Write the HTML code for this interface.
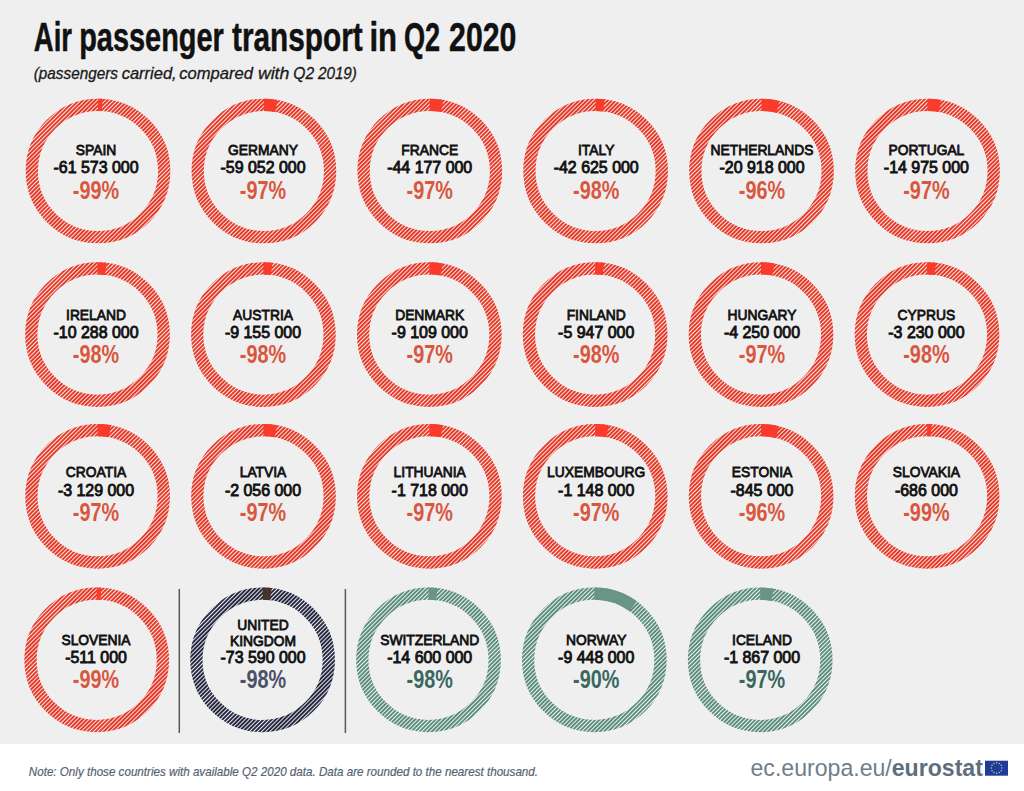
<!DOCTYPE html>
<html><head><meta charset="utf-8"><style>
html,body{margin:0;padding:0;width:1024px;height:791px;overflow:hidden;background:#fff}
svg{display:block}
text{font-family:"Liberation Sans",sans-serif}
.nm{font-size:15.4px;font-weight:normal;fill:#111;stroke:#111;stroke-width:0.85px;text-anchor:middle}
.nu{font-size:15.8px;font-weight:normal;fill:#111;stroke:#111;stroke-width:0.85px;text-anchor:middle}
.ti{font-size:41px;font-weight:bold;fill:#111;stroke:#111;stroke-width:0.5px}
.st{font-size:16px;font-style:italic;fill:#1a1a1a;stroke:#1a1a1a;stroke-width:0.3px}
.pc{font-size:25.5px;font-weight:bold;text-anchor:middle}
</style></head><body>
<svg width="1024" height="791" viewBox="0 0 1024 791">
<defs><pattern id="pr" patternUnits="userSpaceOnUse" width="2.9" height="20" patternTransform="rotate(45)"><rect width="2.9" height="20" fill="#e43a2c"/><rect x="0" width="0.95" height="20" fill="#ffeae2"/></pattern><pattern id="pn" patternUnits="userSpaceOnUse" width="2.9" height="20" patternTransform="rotate(45)"><rect width="2.9" height="20" fill="#28293e"/><rect x="0" width="0.95" height="20" fill="#eeeef6"/></pattern><pattern id="pg" patternUnits="userSpaceOnUse" width="2.9" height="20" patternTransform="rotate(45)"><rect width="2.9" height="20" fill="#5e8c7c"/><rect x="0" width="0.95" height="20" fill="#f0faf6"/></pattern></defs>
<rect x="0" y="0" width="1024" height="744" fill="#efefef"/>
<rect x="0" y="744" width="1024" height="47" fill="#ffffff"/>
<text transform="translate(33.83,50.9) scale(0.6696,1)" class="ti">Air</text>
<text transform="translate(79.18,50.9) scale(0.7054,1)" class="ti">passenger</text>
<text transform="translate(232.00,50.9) scale(0.7267,1)" class="ti">transport</text>
<text transform="translate(369.43,50.9) scale(0.7581,1)" class="ti">in</text>
<text transform="translate(403.98,50.9) scale(0.6615,1)" class="ti">Q2</text>
<text transform="translate(449.06,50.9) scale(0.7382,1)" class="ti">2020</text>
<text transform="translate(33.74,78.6) scale(0.9575,1)" class="st">(passengers</text>
<text transform="translate(121.67,78.6) scale(1.0314,1)" class="st">carried,</text>
<text transform="translate(179.26,78.6) scale(1.0380,1)" class="st">compared</text>
<text transform="translate(257.89,78.6) scale(1.1074,1)" class="st">with</text>
<text transform="translate(293.32,78.6) scale(0.9750,1)" class="st">Q2</text>
<text transform="translate(317.90,78.6) scale(0.9550,1)" class="st">2019)</text>
<line x1="179.3" y1="589" x2="179.3" y2="733" stroke="#575757" stroke-width="1.5"/>
<line x1="345.4" y1="589" x2="345.4" y2="733" stroke="#575757" stroke-width="1.5"/>
<circle cx="98" cy="171" r="66.2" fill="none" stroke="url(#pr)" stroke-width="12.3"/><path d="M98.00,104.80 A66.2,66.2 0 0 1 102.16,104.93" fill="none" stroke="#fa3a2a" stroke-width="12.3"/><text transform="translate(96,155.3) scale(0.898,1)" class="nm">SPAIN</text><text transform="translate(96,173.1) scale(1.01,1)" class="nu">-61 573 000</text><text transform="translate(96,198.5) scale(0.778,1)" class="pc" fill="#d9573f">-99%</text><circle cx="263.9" cy="171" r="66.2" fill="none" stroke="url(#pr)" stroke-width="12.3"/><path d="M263.90,104.80 A66.2,66.2 0 0 1 276.30,105.97" fill="none" stroke="#fa3a2a" stroke-width="12.3"/><text transform="translate(263,155.3) scale(0.898,1)" class="nm">GERMANY</text><text transform="translate(263,173.1) scale(1.01,1)" class="nu">-59 052 000</text><text transform="translate(263,198.5) scale(0.778,1)" class="pc" fill="#d9573f">-97%</text><circle cx="429.8" cy="171" r="66.2" fill="none" stroke="url(#pr)" stroke-width="12.3"/><path d="M429.80,104.80 A66.2,66.2 0 0 1 442.20,105.97" fill="none" stroke="#fa3a2a" stroke-width="12.3"/><text transform="translate(429.7,155.3) scale(0.898,1)" class="nm">FRANCE</text><text transform="translate(429.7,173.1) scale(1.01,1)" class="nu">-44 177 000</text><text transform="translate(429.7,198.5) scale(0.778,1)" class="pc" fill="#d9573f">-97%</text><circle cx="595.6" cy="171" r="66.2" fill="none" stroke="url(#pr)" stroke-width="12.3"/><path d="M595.60,104.80 A66.2,66.2 0 0 1 603.90,105.32" fill="none" stroke="#fa3a2a" stroke-width="12.3"/><text transform="translate(596.2,155.3) scale(0.898,1)" class="nm">ITALY</text><text transform="translate(596.2,173.1) scale(1.01,1)" class="nu">-42 625 000</text><text transform="translate(596.2,198.5) scale(0.778,1)" class="pc" fill="#d9573f">-98%</text><circle cx="761.5" cy="171" r="66.2" fill="none" stroke="url(#pr)" stroke-width="12.3"/><path d="M761.50,104.80 A66.2,66.2 0 0 1 777.96,106.88" fill="none" stroke="#fa3a2a" stroke-width="12.3"/><text transform="translate(762,155.3) scale(0.898,1)" class="nm">NETHERLANDS</text><text transform="translate(762,173.1) scale(1.01,1)" class="nu">-20 918 000</text><text transform="translate(762,198.5) scale(0.778,1)" class="pc" fill="#d9573f">-96%</text><circle cx="927.5" cy="171" r="66.2" fill="none" stroke="url(#pr)" stroke-width="12.3"/><path d="M927.50,104.80 A66.2,66.2 0 0 1 939.90,105.97" fill="none" stroke="#fa3a2a" stroke-width="12.3"/><text transform="translate(926.4,155.3) scale(0.898,1)" class="nm">PORTUGAL</text><text transform="translate(926.4,173.1) scale(1.01,1)" class="nu">-14 975 000</text><text transform="translate(926.4,198.5) scale(0.778,1)" class="pc" fill="#d9573f">-97%</text><circle cx="97.5" cy="334.6" r="66.2" fill="none" stroke="url(#pr)" stroke-width="12.3"/><path d="M97.50,268.40 A66.2,66.2 0 0 1 105.80,268.92" fill="none" stroke="#fa3a2a" stroke-width="12.3"/><text transform="translate(96,320.0) scale(0.898,1)" class="nm">IRELAND</text><text transform="translate(96,338.2) scale(1.01,1)" class="nu">-10 288 000</text><text transform="translate(96,363.3) scale(0.778,1)" class="pc" fill="#d9573f">-98%</text><circle cx="263.4" cy="334.6" r="66.2" fill="none" stroke="url(#pr)" stroke-width="12.3"/><path d="M263.40,268.40 A66.2,66.2 0 0 1 271.70,268.92" fill="none" stroke="#fa3a2a" stroke-width="12.3"/><text transform="translate(263,320.0) scale(0.898,1)" class="nm">AUSTRIA</text><text transform="translate(263,338.2) scale(1.01,1)" class="nu">-9 155 000</text><text transform="translate(263,363.3) scale(0.778,1)" class="pc" fill="#d9573f">-98%</text><circle cx="429.3" cy="334.6" r="66.2" fill="none" stroke="url(#pr)" stroke-width="12.3"/><path d="M429.30,268.40 A66.2,66.2 0 0 1 441.70,269.57" fill="none" stroke="#fa3a2a" stroke-width="12.3"/><text transform="translate(429.7,320.0) scale(0.898,1)" class="nm">DENMARK</text><text transform="translate(429.7,338.2) scale(1.01,1)" class="nu">-9 109 000</text><text transform="translate(429.7,363.3) scale(0.778,1)" class="pc" fill="#d9573f">-97%</text><circle cx="595.1" cy="334.6" r="66.2" fill="none" stroke="url(#pr)" stroke-width="12.3"/><path d="M595.10,268.40 A66.2,66.2 0 0 1 603.40,268.92" fill="none" stroke="#fa3a2a" stroke-width="12.3"/><text transform="translate(596.2,320.0) scale(0.898,1)" class="nm">FINLAND</text><text transform="translate(596.2,338.2) scale(1.01,1)" class="nu">-5 947 000</text><text transform="translate(596.2,363.3) scale(0.778,1)" class="pc" fill="#d9573f">-98%</text><circle cx="761.0" cy="334.6" r="66.2" fill="none" stroke="url(#pr)" stroke-width="12.3"/><path d="M761.00,268.40 A66.2,66.2 0 0 1 773.40,269.57" fill="none" stroke="#fa3a2a" stroke-width="12.3"/><text transform="translate(762,320.0) scale(0.898,1)" class="nm">HUNGARY</text><text transform="translate(762,338.2) scale(1.01,1)" class="nu">-4 250 000</text><text transform="translate(762,363.3) scale(0.778,1)" class="pc" fill="#d9573f">-97%</text><circle cx="927.0" cy="334.6" r="66.2" fill="none" stroke="url(#pr)" stroke-width="12.3"/><path d="M927.00,268.40 A66.2,66.2 0 0 1 935.30,268.92" fill="none" stroke="#fa3a2a" stroke-width="12.3"/><text transform="translate(926.4,320.0) scale(0.898,1)" class="nm">CYPRUS</text><text transform="translate(926.4,338.2) scale(1.01,1)" class="nu">-3 230 000</text><text transform="translate(926.4,363.3) scale(0.778,1)" class="pc" fill="#d9573f">-98%</text><circle cx="97.6" cy="496.3" r="66.2" fill="none" stroke="url(#pr)" stroke-width="12.3"/><path d="M97.60,430.10 A66.2,66.2 0 0 1 110.00,431.27" fill="none" stroke="#fa3a2a" stroke-width="12.3"/><text transform="translate(96,477.3) scale(0.898,1)" class="nm">CROATIA</text><text transform="translate(96,495.5) scale(1.01,1)" class="nu">-3 129 000</text><text transform="translate(96,520.7) scale(0.778,1)" class="pc" fill="#d9573f">-97%</text><circle cx="263.5" cy="496.3" r="66.2" fill="none" stroke="url(#pr)" stroke-width="12.3"/><path d="M263.50,430.10 A66.2,66.2 0 0 1 275.90,431.27" fill="none" stroke="#fa3a2a" stroke-width="12.3"/><text transform="translate(263,477.3) scale(0.898,1)" class="nm">LATVIA</text><text transform="translate(263,495.5) scale(1.01,1)" class="nu">-2 056 000</text><text transform="translate(263,520.7) scale(0.778,1)" class="pc" fill="#d9573f">-97%</text><circle cx="429.40000000000003" cy="496.3" r="66.2" fill="none" stroke="url(#pr)" stroke-width="12.3"/><path d="M429.40,430.10 A66.2,66.2 0 0 1 441.80,431.27" fill="none" stroke="#fa3a2a" stroke-width="12.3"/><text transform="translate(429.7,477.3) scale(0.898,1)" class="nm">LITHUANIA</text><text transform="translate(429.7,495.5) scale(1.01,1)" class="nu">-1 718 000</text><text transform="translate(429.7,520.7) scale(0.778,1)" class="pc" fill="#d9573f">-97%</text><circle cx="595.2" cy="496.3" r="66.2" fill="none" stroke="url(#pr)" stroke-width="12.3"/><path d="M595.20,430.10 A66.2,66.2 0 0 1 607.60,431.27" fill="none" stroke="#fa3a2a" stroke-width="12.3"/><text transform="translate(596.2,477.3) scale(0.898,1)" class="nm">LUXEMBOURG</text><text transform="translate(596.2,495.5) scale(1.01,1)" class="nu">-1 148 000</text><text transform="translate(596.2,520.7) scale(0.778,1)" class="pc" fill="#d9573f">-97%</text><circle cx="761.1" cy="496.3" r="66.2" fill="none" stroke="url(#pr)" stroke-width="12.3"/><path d="M761.10,430.10 A66.2,66.2 0 0 1 777.56,432.18" fill="none" stroke="#fa3a2a" stroke-width="12.3"/><text transform="translate(762,477.3) scale(0.898,1)" class="nm">ESTONIA</text><text transform="translate(762,495.5) scale(1.01,1)" class="nu">-845 000</text><text transform="translate(762,520.7) scale(0.778,1)" class="pc" fill="#d9573f">-96%</text><circle cx="927.1" cy="496.3" r="66.2" fill="none" stroke="url(#pr)" stroke-width="12.3"/><path d="M927.10,430.10 A66.2,66.2 0 0 1 931.26,430.23" fill="none" stroke="#fa3a2a" stroke-width="12.3"/><text transform="translate(926.4,477.3) scale(0.898,1)" class="nm">SLOVAKIA</text><text transform="translate(926.4,495.5) scale(1.01,1)" class="nu">-686 000</text><text transform="translate(926.4,520.7) scale(0.778,1)" class="pc" fill="#d9573f">-99%</text><circle cx="96.7" cy="659.9" r="66.2" fill="none" stroke="url(#pr)" stroke-width="12.3"/><path d="M96.70,593.70 A66.2,66.2 0 0 1 100.86,593.83" fill="none" stroke="#fa3a2a" stroke-width="12.3"/><text transform="translate(96,645.3) scale(0.898,1)" class="nm">SLOVENIA</text><text transform="translate(96,662.9) scale(1.01,1)" class="nu">-511 000</text><text transform="translate(96,688.1) scale(0.778,1)" class="pc" fill="#d9573f">-99%</text><circle cx="262.59999999999997" cy="659.9" r="66.2" fill="none" stroke="url(#pn)" stroke-width="12.3"/><path d="M262.60,593.70 A66.2,66.2 0 0 1 270.90,594.22" fill="none" stroke="#45342e" stroke-width="12.3"/><text transform="translate(263,630.1) scale(0.898,1)" class="nm">UNITED</text><text transform="translate(263,646.2) scale(0.898,1)" class="nm">KINGDOM</text><text transform="translate(263,662.7) scale(1.01,1)" class="nu">-73 590 000</text><text transform="translate(263,688.1) scale(0.778,1)" class="pc" fill="#4d5068">-98%</text><circle cx="428.5" cy="659.9" r="66.2" fill="none" stroke="url(#pg)" stroke-width="12.3"/><path d="M428.50,593.70 A66.2,66.2 0 0 1 436.80,594.22" fill="none" stroke="#6a9484" stroke-width="12.3"/><text transform="translate(429.7,645.3) scale(0.898,1)" class="nm">SWITZERLAND</text><text transform="translate(429.7,662.9) scale(1.01,1)" class="nu">-14 600 000</text><text transform="translate(429.7,688.1) scale(0.778,1)" class="pc" fill="#3a675f">-98%</text><circle cx="594.3000000000001" cy="659.9" r="66.2" fill="none" stroke="url(#pg)" stroke-width="12.3"/><path d="M594.30,593.70 A66.2,66.2 0 0 1 633.21,606.34" fill="none" stroke="#6a9484" stroke-width="12.3"/><text transform="translate(596.2,645.3) scale(0.898,1)" class="nm">NORWAY</text><text transform="translate(596.2,662.9) scale(1.01,1)" class="nu">-9 448 000</text><text transform="translate(596.2,688.1) scale(0.778,1)" class="pc" fill="#3a675f">-90%</text><circle cx="760.2" cy="659.9" r="66.2" fill="none" stroke="url(#pg)" stroke-width="12.3"/><path d="M760.20,593.70 A66.2,66.2 0 0 1 772.60,594.87" fill="none" stroke="#6a9484" stroke-width="12.3"/><text transform="translate(762,645.3) scale(0.898,1)" class="nm">ICELAND</text><text transform="translate(762,662.9) scale(1.01,1)" class="nu">-1 867 000</text><text transform="translate(762,688.1) scale(0.778,1)" class="pc" fill="#3a675f">-97%</text>
<text transform="translate(28.8,775.7) scale(0.931,1)" style="font-size:12.5px;font-style:italic;fill:#566371;stroke:#566371;stroke-width:0.2">Note: Only those countries with available Q2 2020 data. Data are rounded to the nearest thousand.</text>
<text transform="translate(750.5,775.5) scale(0.9435,1)" style="font-size:24.5px;fill:#6f7e8b">ec.europa.eu/<tspan style="font-weight:bold;fill:#5e6e7d">eurostat</tspan></text>
<rect x="985" y="760.7" width="23" height="15" fill="#1d3d98"/>
<circle cx="996.60" cy="762.70" r="0.75" fill="#c9c58a"/><circle cx="999.25" cy="763.41" r="0.75" fill="#c9c58a"/><circle cx="1001.19" cy="765.35" r="0.75" fill="#c9c58a"/><circle cx="1001.90" cy="768.00" r="0.75" fill="#c9c58a"/><circle cx="1001.19" cy="770.65" r="0.75" fill="#c9c58a"/><circle cx="999.25" cy="772.59" r="0.75" fill="#c9c58a"/><circle cx="996.60" cy="773.30" r="0.75" fill="#c9c58a"/><circle cx="993.95" cy="772.59" r="0.75" fill="#c9c58a"/><circle cx="992.01" cy="770.65" r="0.75" fill="#c9c58a"/><circle cx="991.30" cy="768.00" r="0.75" fill="#c9c58a"/><circle cx="992.01" cy="765.35" r="0.75" fill="#c9c58a"/><circle cx="993.95" cy="763.41" r="0.75" fill="#c9c58a"/>
</svg>
</body></html>
